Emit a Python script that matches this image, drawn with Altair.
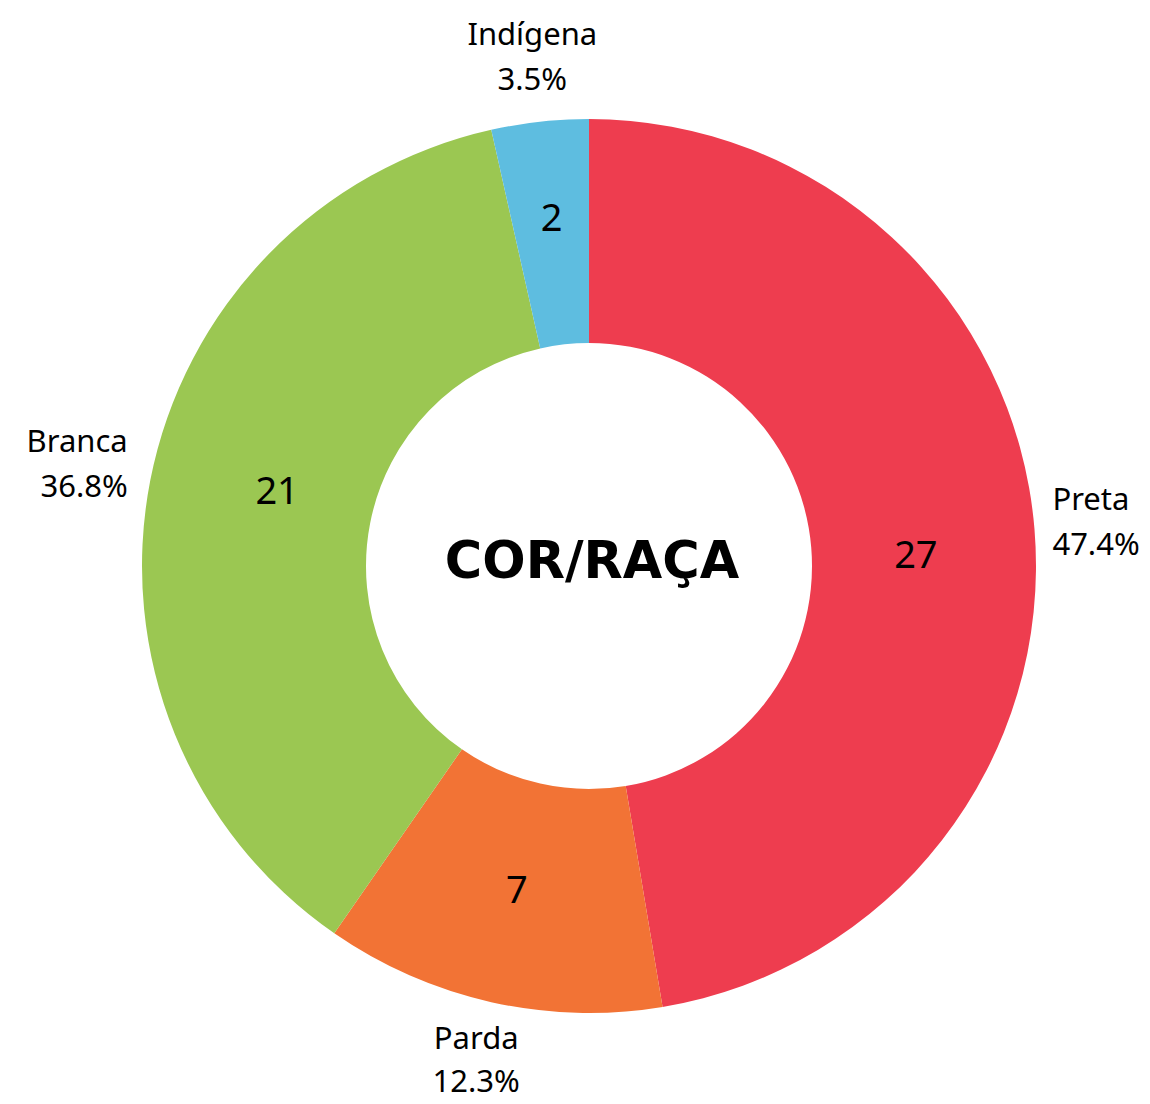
import altair as alt
import pandas as pd

categories = ["Preta", "Parda", "Branca", "Indígena"]
counts = [27, 7, 21, 2]
percent_labels = ["47.4%", "12.3%", "36.8%", "3.5%"]
colors = ["#EE3D4F", "#F27335", "#9BC752", "#5EBDE0"]
center_title = ["COR/RAÇA"]

df = pd.DataFrame({
    "cat": categories,
    "n": counts,
    "pct": percent_labels,
    "ord": list(range(len(categories))),
})
df["label"] = df["cat"] + "\n" + df["pct"]

LABEL_FONT = "Noto Sans"

base = alt.Chart(df).encode(
    theta=alt.Theta("n:Q", stack=True),
    order=alt.Order("ord:Q"),
)

arcs = base.mark_arc(innerRadius=223, outerRadius=447, stroke=None).encode(
    color=alt.Color("cat:N", scale=alt.Scale(domain=categories, range=colors), legend=None)
)


def inner(cat, **kw):
    return base.transform_calculate(
        t=f"datum.cat == '{cat}' ? format(datum.n, 'd') : ''"
    ).mark_text(
        radius=330, fontSize=38, font=LABEL_FONT, color="black", **kw
    ).encode(text="t:N")


def outer(cat, line_height=45, **kw):
    return base.transform_calculate(
        t=f"datum.cat == '{cat}' ? datum.label : ''"
    ).mark_text(
        radius=470, fontSize=31, lineBreak="\n", lineHeight=line_height,
        font=LABEL_FONT, color="black", **kw
    ).encode(text="t:N")


val_preta = inner("Preta", dx=-2, dy=18)
val_parda = inner("Parda", dy=4)
val_branca = inner("Branca", dx=12, dy=-10)
val_ind = inner("Indígena", dx=-1, dy=-18)

lab_preta = outer("Preta", align="left", baseline="middle", dx=-5, dy=-26)
lab_parda = outer("Parda", line_height=43, align="center", baseline="top", dx=-10, dy=0)
lab_branca = outer("Branca", align="right", baseline="middle", dy=-33)
lab_ind = outer("Indígena", align="center", baseline="bottom", dx=-5, dy=-47)

title = alt.Chart(pd.DataFrame({"t": center_title})).mark_text(
    font="DejaVu Sans", fontSize=51, fontWeight="bold",
    color="black", baseline="middle"
).encode(text="t:N", x=alt.value(553), y=alt.value(527))

chart = alt.layer(
    arcs, val_preta, val_parda, val_branca, val_ind,
    lab_preta, lab_parda, lab_branca, lab_ind, title
).properties(
    width=1100,
    height=1060,
    padding={"left": 31, "top": 28, "right": 3, "bottom": 0},
    autosize=alt.AutoSizeParams(type="none"),
).configure_view(stroke=None)

chart.save("out.html", embed_options={"renderer": "svg", "actions": False})
